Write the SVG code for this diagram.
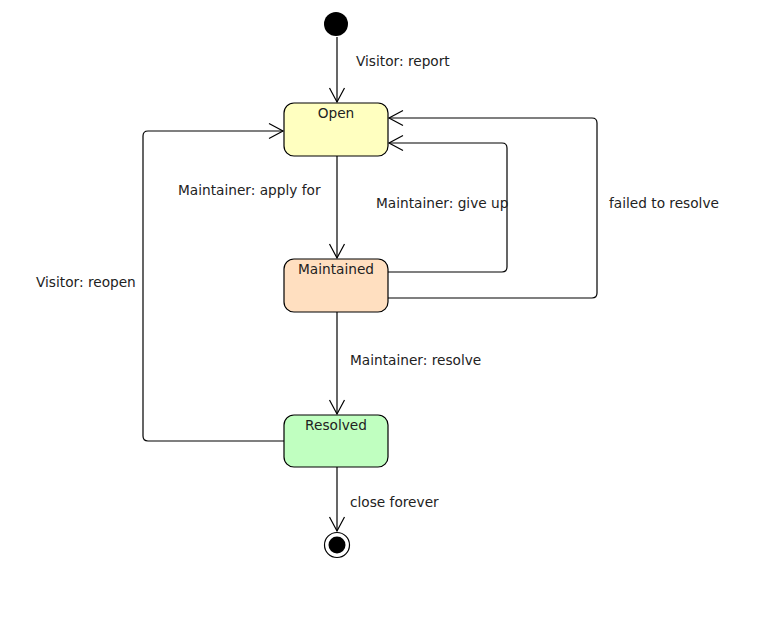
<svg xmlns="http://www.w3.org/2000/svg" width="777" height="623" viewBox="0 0 777 623">
<defs>
<marker id="arr" markerUnits="userSpaceOnUse" markerWidth="20" markerHeight="20" viewBox="-16 -10 20 20" refX="0" refY="0" orient="auto">
<path d="M-14,-7.5 L0,0 L-14,7.5" fill="none" stroke="#000" stroke-width="1.2"/>
</marker>
<style>
text{font-family:"DejaVu Sans","Liberation Sans",sans-serif;font-size:13.7px;fill:#222}
.st{stroke:#000;stroke-width:1.2}
.c{fill:none;stroke:#000;stroke-width:1.2;marker-end:url(#arr)}
</style>
</defs>
<rect width="777" height="623" fill="#fff"/>
<g id="connectors">
<path class="c" d="M337,37 V102"/>
<path class="c" d="M337,156 V258"/>
<path class="c" d="M337,312 V414"/>
<path class="c" d="M337,467 V531"/>
<path class="c" d="M388,272 H502 Q507,272 507,267 V148 Q507,143 502,143 H389"/>
<path class="c" d="M388,298 H592 Q597,298 597,293 V123 Q597,118 592,118 H389"/>
<path class="c" d="M284,441 H148 Q143,441 143,436 V136 Q143,131 148,131 H283"/>
<text x="356" y="66">Visitor: report</text>
<text x="178" y="195">Maintainer: apply for</text>
<text x="376" y="208">Maintainer: give up</text>
<text x="609" y="208">failed to resolve</text>
<text x="36" y="287">Visitor: reopen</text>
<text x="350" y="365">Maintainer: resolve</text>
<text x="350" y="507">close forever</text>
</g>
<g id="initial"><circle cx="336" cy="24" r="12" fill="#000"/></g>
<g id="open"><rect class="st" x="284" y="103" width="104" height="53" rx="10" fill="#ffffc0"/><text x="336" y="118" text-anchor="middle">Open</text></g>
<g id="maintained"><rect class="st" x="284" y="259" width="104" height="53" rx="10" fill="#ffdfc0"/><text x="336" y="274" text-anchor="middle">Maintained</text></g>
<g id="resolved"><rect class="st" x="284" y="415" width="104" height="52" rx="10" fill="#c0ffc0"/><text x="336" y="430" text-anchor="middle">Resolved</text></g>
<g id="final"><circle class="st" cx="337" cy="545" r="12.5" fill="#fff"/><circle cx="337" cy="545" r="8.5" fill="#000"/></g>
</svg>
